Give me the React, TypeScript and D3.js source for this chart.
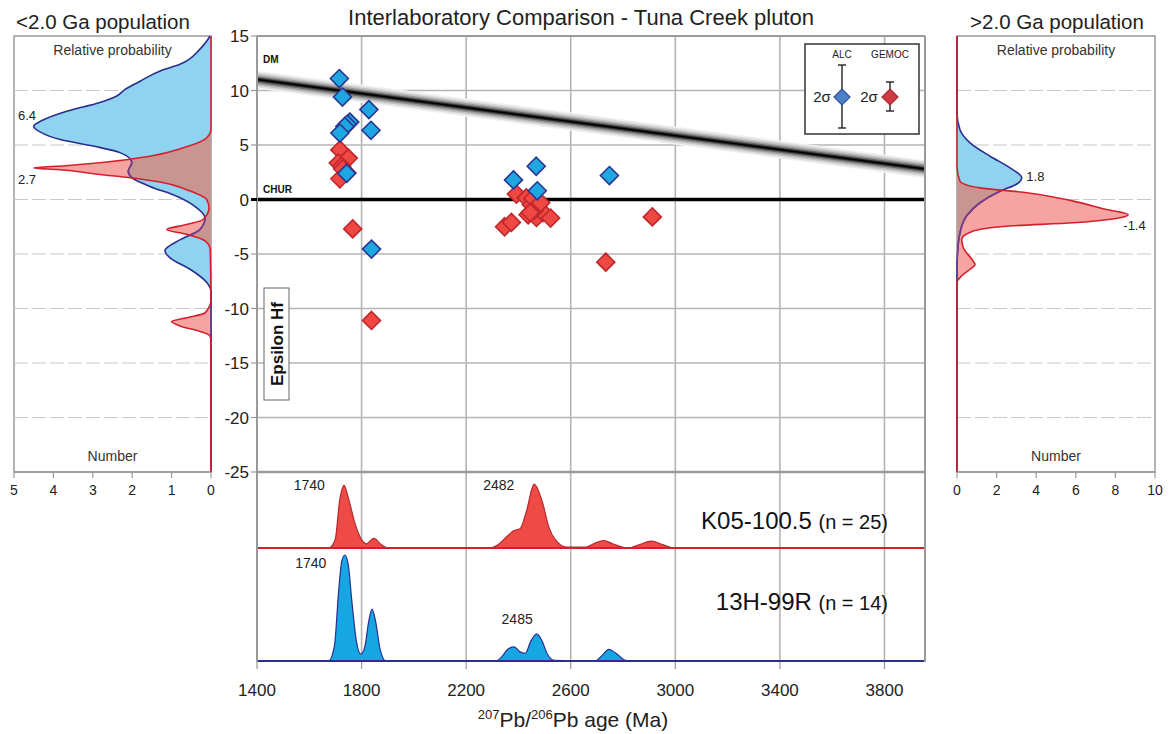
import React from 'react';
import * as d3 from 'd3';

type P = [number, number];

// ---------- data ----------
const ageTicks = [1400, 1800, 2200, 2600, 3000, 3400, 3800];
const epsTicks = [15, 10, 5, 0, -5, -10, -15, -20, -25];
const leftNumTicks = [5, 4, 3, 2, 1, 0];
const rightNumTicks = [0, 2, 4, 6, 8, 10];

// [age Ma, epsilon Hf]
const alcPoints: P[] = [
  [1715, 11.1], [1727, 9.4], [1828, 8.25], [1755, 7.1], [1745, 6.9], [1736, 6.7], [1717, 6.1],
  [1836, 6.35], [1743, 2.4], [1838, -4.55], [2381, 1.8], [2468, 3.05], [2472, 0.8], [2748, 2.2],
];
const gemocPoints: P[] = [
  [1717, 4.55], [1749, 3.8], [1711, 3.35], [1724, 3.05], [1743, 2.45], [1717, 1.9], [1728, 2.8],
  [1766, -2.7], [1838, -11.1],
  [2392, 0.5], [2430, 0.15], [2449, -0.45], [2475, -0.7], [2455, 0.1], [2437, -1.4], [2469, -1.65],
  [2494, -1.2], [2523, -1.7], [2347, -2.5], [2373, -2.1], [2460, -1.0], [2485, -0.3], [2445, -1.2],
  [2912, -1.6], [2734, -5.75],
];
const dmLine: P[] = [[1400, 11.0], [3955, 2.8]];
const churLine: P[] = [[1400, 0], [3955, 0]];

// side panels: [epsilon, number]
const leftAlcDensity: P[] = [
  [15, 0.02], [13.8, 0.28], [12.4, 0.79], [11.8, 1.29], [10.85, 1.8], [10.1, 2.18], [9.5, 2.39],
  [8.9, 2.82], [8.1, 3.66], [7.3, 4.26], [6.7, 4.5], [6.2, 4.34], [5.5, 3.83], [4.9, 2.99],
  [4.3, 2.31], [3.4, 2.01], [2.6, 2.1], [2.0, 2.01], [1.2, 1.55], [0.3, 0.87], [-0.76, 0.36],
  [-1.7, 0.15], [-2.75, 0.28], [-3.7, 0.79], [-4.7, 1.17], [-5.35, 1.04], [-6.4, 0.53],
  [-7.6, 0.11], [-8.5, 0], [-25, 0],
];
const leftGemocDensity: P[] = [
  [15, 0], [6.5, 0], [5.66, 0.11], [4.74, 0.7], [3.97, 1.55], [3.37, 2.82], [3.1, 3.7], [2.9, 4.5],
  [2.75, 3.9], [2.3, 2.82], [2.0, 2.06], [1.6, 1.29], [0.9, 0.62], [0, 0.11], [-0.76, 0.05],
  [-1.83, 0.2], [-2.3, 0.62], [-2.75, 1.12], [-3.2, 0.62], [-3.8, 0.15], [-4.6, 0.02], [-9.2, 0],
  [-10.4, 0.15], [-10.85, 0.62], [-11.2, 1.0], [-11.6, 0.79], [-12.1, 0.28], [-12.5, 0.03],
  [-13, 0], [-25, 0],
];
const rightAlcDensity: P[] = [
  [15, 0], [7.95, 0], [6.4, 0.15], [5.2, 0.66], [3.97, 1.67], [2.9, 2.68], [2.0, 3.27], [1.4, 3.0],
  [0.76, 2.17], [-0.3, 1.16], [-1.5, 0.49], [-3.05, 0.15], [-5.1, 0.02], [-6, 0], [-25, 0],
];
const rightGemocDensity: P[] = [
  [15, 0], [3.05, 0], [1.68, 0.15], [1.07, 1.16], [0.67, 3.35], [-0.15, 5.87], [-0.92, 7.56],
  [-1.38, 8.65], [-1.68, 8.23], [-2.14, 5.87], [-2.45, 2.51], [-2.9, 0.82], [-3.67, 0.24],
  [-4.43, 0.32], [-5.66, 0.82], [-5.96, 0.91], [-6.4, 0.66], [-7.0, 0.24], [-7.6, 0], [-25, 0],
];

// bottom age spectra: [age, relative probability]
const gemocAgeKde: P[] = [
  [1400, 0], [1674, 0], [1699, 0.13], [1716, 0.74], [1733, 0.98], [1749, 0.79], [1775, 0.38],
  [1800, 0.13], [1817, 0.066], [1847, 0.15], [1876, 0.05], [1901, 0], [2288, 0], [2322, 0.05],
  [2356, 0.18], [2381, 0.27], [2406, 0.3], [2431, 0.58], [2460, 1.0], [2490, 0.74], [2516, 0.33],
  [2541, 0.13], [2583, 0.015], [2659, 0.015], [2693, 0.076], [2726, 0.117], [2760, 0.066],
  [2819, 0], [2861, 0.05], [2908, 0.107], [2954, 0.05], [2996, 0], [3955, 0],
];
const alcAgeKde: P[] = [
  [1400, 0], [1674, 0], [1696, 0.14], [1712, 0.65], [1724, 0.94], [1736, 1.0], [1749, 0.91],
  [1763, 0.56], [1780, 0.19], [1797, 0.064], [1813, 0.14], [1827, 0.37], [1840, 0.49],
  [1854, 0.37], [1871, 0.11], [1893, 0], [2314, 0], [2339, 0.048], [2359, 0.11], [2383, 0.134],
  [2406, 0.086], [2426, 0.073], [2448, 0.19], [2470, 0.256], [2490, 0.19], [2511, 0.064],
  [2538, 0.006], [2693, 0], [2718, 0.048], [2746, 0.11], [2773, 0.073], [2810, 0.006], [2830, 0],
  [3955, 0],
];

const gemocPeakLabels: { age: number; text: string }[] = [{ age: 1600, text: '1740' }, { age: 2325, text: '2482' }];
const alcPeakLabels: { age: number; text: string }[] = [{ age: 1606, text: '1740' }, { age: 2395, text: '2485' }];
const leftPeakLabels: { eps: number; text: string }[] = [{ eps: 7.3, text: '6.4' }, { eps: 1.4, text: '2.7' }];
const rightPeakLabels: { eps: number; n: number; text: string }[] = [{ eps: 1.7, n: 3.5, text: '1.8' }, { eps: -2.8, n: 8.4, text: '-1.4' }];

// ---------- styles ----------
const FONT = "'Liberation Sans', Arial, sans-serif";
const C = {
  grid: '#b4b4b4',
  frame: '#9a9a9a',
  navy: '#2b2e8c',
  lightBlue: '#8fd3f0',
  red: '#d2202c',
  salmon: '#f5a4a1',
  brown: '#c99590',
  purple: '#7e3d86',
  dBlueFill: '#1fa7e1',
  dBlueStroke: '#2a3592',
  dRedFill: '#ef4742',
  dRedStroke: '#c0272d',
  kdeRed: '#ee4a46',
  kdeRedStroke: '#b3282e',
  kdeBlue: '#17a6e4',
};

const diamond = (r: number) => `M0,${-r}L${r},0L0,${r}L${-r},0Z`;

export default function App() {
  const x = d3.scaleLinear().domain([1400, 3955]).range([257, 925]);
  const y = d3.scaleLinear().domain([-25, 15]).range([472, 36]);
  const xl = d3.scaleLinear().domain([5, 0]).range([14, 211]);
  const xr = d3.scaleLinear().domain([0, 10]).range([957, 1155]);
  const yRed = d3.scaleLinear().domain([0, 1]).range([548, 484]);
  const yBlue = d3.scaleLinear().domain([0, 1]).range([661, 555]);

  const sideArea = (xs: d3.ScaleLinear<number, number>) =>
    d3.area<P>().y(d => y(d[0])).x0(xs(0)).x1(d => xs(d[1])).curve(d3.curveMonotoneY);
  const sideLine = (xs: d3.ScaleLinear<number, number>) =>
    d3.line<P>().y(d => y(d[0])).x(d => xs(d[1])).curve(d3.curveMonotoneY);
  const kdeArea = (ys: d3.ScaleLinear<number, number>) =>
    d3.area<P>().x(d => x(d[0])).y0(ys(0)).y1(d => ys(d[1])).curve(d3.curveMonotoneX);
  const kdeLine = (ys: d3.ScaleLinear<number, number>) =>
    d3.line<P>().x(d => x(d[0])).y(d => ys(d[1])).curve(d3.curveMonotoneX);
  const straight = d3.line<P>().x(d => x(d[0])).y(d => y(d[1]));

  const gridEps = epsTicks.filter(t => t !== 15 && t !== -25 && t !== 0);
  const sideGridEps = epsTicks.filter(t => t !== 15 && t !== -25);

  const renderSide = (
    xs: d3.ScaleLinear<number, number>,
    alc: P[],
    gemoc: P[],
    key: string,
    left: number,
    right: number,
    ticks: number[],
  ) => {
    const aA = sideArea(xs)(alc) || '';
    const gA = sideArea(xs)(gemoc) || '';
    const aL = sideLine(xs)(alc) || '';
    const gL = sideLine(xs)(gemoc) || '';
    return (
      <g key={key}>
        <defs>
          <clipPath id={`${key}-clipA`}><path d={aA} /></clipPath>
          <clipPath id={`${key}-clipG`}><path d={gA} /></clipPath>
        </defs>
        <rect x={left} y={y(15)} width={right - left} height={y(-25) - y(15)} fill="white" stroke={C.frame} strokeWidth={1.5} />
        {sideGridEps.map(t => (
          <line key={t} x1={left} x2={right} y1={y(t)} y2={y(t)} stroke="#c8c8c8" strokeWidth={1.2} strokeDasharray="14,4" />
        ))}
        <path d={aA} fill={C.lightBlue} />
        <path d={gA} fill={C.salmon} />
        <path d={gA} fill={C.brown} clipPath={`url(#${key}-clipA)`} />
        <path d={aL} fill="none" stroke={C.navy} strokeWidth={1.6} />
        <path d={aL} fill="none" stroke={C.purple} strokeWidth={1.6} clipPath={`url(#${key}-clipG)`} />
        <path d={gL} fill="none" stroke={C.red} strokeWidth={1.6} />
        <line x1={left} x2={right} y1={y(-25)} y2={y(-25)} stroke={C.frame} strokeWidth={1.5} />
        {ticks.map(t => (
          <g key={t}>
            <line x1={xs(t)} x2={xs(t)} y1={y(-25)} y2={y(-25) + 6} stroke={C.frame} strokeWidth={1.2} />
            <text x={xs(t)} y={y(-25) + 23} textAnchor="middle" fontSize={14} fontFamily={FONT} fill="#222">{t}</text>
          </g>
        ))}
        <text x={(left + right) / 2} y={55} textAnchor="middle" fontSize={14} fontFamily={FONT} fill="#333">Relative probability</text>
        <text x={(left + right) / 2} y={461} textAnchor="middle" fontSize={14} fontFamily={FONT} fill="#333">Number</text>
      </g>
    );
  };

  const dmBands = [
    { w: 18, c: '#f2f2f2' },
    { w: 15, c: '#dedede' },
    { w: 12, c: '#c2c2c2' },
    { w: 9, c: '#9a9a9a' },
    { w: 6, c: '#666' },
    { w: 3.5, c: '#2a2a2a' },
    { w: 1.5, c: '#000' },
  ];

  return (
    <svg width={1171} height={734} style={{ position: 'absolute', left: 0, top: 0, background: 'white' }}>
      <defs>
        <clipPath id="mainClip"><rect x={257} y={36} width={668} height={436} /></clipPath>
      </defs>

      {/* titles */}
      <text x={581} y={25} textAnchor="middle" fontSize={22} fontFamily={FONT} fill="#222">Interlaboratory Comparison - Tuna Creek pluton</text>
      <text x={103} y={29} textAnchor="middle" fontSize={20.5} fontFamily={FONT} fill="#222">&lt;2.0 Ga population</text>
      <text x={1057} y={29} textAnchor="middle" fontSize={20.5} fontFamily={FONT} fill="#222">&gt;2.0 Ga population</text>

      {/* side panels */}
      {renderSide(xl, leftAlcDensity, leftGemocDensity, 'left', 14, 211, leftNumTicks)}
      {renderSide(xr, rightAlcDensity, rightGemocDensity, 'right', 957, 1155, rightNumTicks)}
      {leftPeakLabels.map(l => (
        <text key={l.text} x={18} y={y(l.eps)} fontSize={13} fontFamily={FONT} fill="#222">{l.text}</text>
      ))}
      {rightPeakLabels.map(l => (
        <text key={l.text} x={xr(l.n)} y={y(l.eps)} fontSize={13} fontFamily={FONT} fill="#222">{l.text}</text>
      ))}

      {/* main panel grid */}
      {ageTicks.filter(t => t !== 1400).map(t => (
        <line key={t} x1={x(t)} x2={x(t)} y1={36} y2={662} stroke={C.grid} strokeWidth={1.6} />
      ))}
      {gridEps.map(t => (
        <line key={t} x1={257} x2={925} y1={y(t)} y2={y(t)} stroke={C.grid} strokeWidth={1.4} />
      ))}
      <line x1={257} x2={925} y1={y(-25)} y2={y(-25)} stroke={C.frame} strokeWidth={2.5} />

      {/* DM band */}
      <g clipPath="url(#mainClip)">
        {dmBands.map((b, i) => (
          <path key={i} d={straight(dmLine) || ''} stroke={b.c} strokeWidth={b.w} fill="none" />
        ))}
      </g>
      {/* CHUR */}
      <path d={straight(churLine) || ''} stroke="#000" strokeWidth={3.5} fill="none" />
      <text x={263} y={63} fontSize={10} fontWeight="bold" fontFamily={FONT} fill="#111">DM</text>
      <text x={263} y={193} fontSize={10} fontWeight="bold" fontFamily={FONT} fill="#111">CHUR</text>

      {/* points */}
      {gemocPoints.map((p, i) => (
        <path key={`g${i}`} d={diamond(9)} transform={`translate(${x(p[0])},${y(p[1])})`} fill={C.dRedFill} stroke={C.dRedStroke} strokeWidth={1.6} />
      ))}
      {alcPoints.map((p, i) => (
        <path key={`a${i}`} d={diamond(9)} transform={`translate(${x(p[0])},${y(p[1])})`} fill={C.dBlueFill} stroke={C.dBlueStroke} strokeWidth={1.6} />
      ))}

      {/* Epsilon Hf label */}
      <rect x={264} y={288} width={25} height={112} fill="white" stroke="#666" strokeWidth={1} />
      <text transform="translate(283,344) rotate(-90)" textAnchor="middle" fontSize={17} fontWeight="bold" fontFamily={FONT} fill="#111">Epsilon Hf</text>

      {/* legend */}
      <rect x={805} y={44} width={114} height={90} fill="white" stroke="#333" strokeWidth={1.5} />
      <text x={842} y={58} textAnchor="middle" fontSize={10} fontFamily={FONT} fill="#222">ALC</text>
      <text x={890} y={58} textAnchor="middle" fontSize={10} fontFamily={FONT} fill="#222">GEMOC</text>
      <line x1={842} x2={842} y1={65} y2={128} stroke="#222" strokeWidth={1.4} />
      <line x1={838} x2={846} y1={65} y2={65} stroke="#222" strokeWidth={1.4} />
      <line x1={838} x2={846} y1={128} y2={128} stroke="#222" strokeWidth={1.4} />
      <line x1={890} x2={890} y1={82} y2={111} stroke="#222" strokeWidth={1.4} />
      <line x1={886} x2={894} y1={82} y2={82} stroke="#222" strokeWidth={1.4} />
      <line x1={886} x2={894} y1={111} y2={111} stroke="#222" strokeWidth={1.4} />
      <path d={diamond(8)} transform="translate(842,97)" fill="#4d82c8" stroke="#2f509c" strokeWidth={1.2} />
      <path d={diamond(8)} transform="translate(890,97)" fill="#cf3b45" stroke="#a82a32" strokeWidth={1.2} />
      <text x={822} y={102} textAnchor="middle" fontSize={15} fontFamily={FONT} fill="#222">2σ</text>
      <text x={869} y={102} textAnchor="middle" fontSize={15} fontFamily={FONT} fill="#222">2σ</text>

      {/* age spectra */}
      <path d={kdeArea(yRed)(gemocAgeKde) || ''} fill={C.kdeRed} />
      <path d={kdeLine(yRed)(gemocAgeKde) || ''} fill="none" stroke={C.kdeRedStroke} strokeWidth={1.2} />
      <line x1={257} x2={925} y1={yRed(0)} y2={yRed(0)} stroke={C.red} strokeWidth={2} />
      <path d={kdeArea(yBlue)(alcAgeKde) || ''} fill={C.kdeBlue} />
      <path d={kdeLine(yBlue)(alcAgeKde) || ''} fill="none" stroke={C.navy} strokeWidth={1.2} />
      <line x1={257} x2={925} y1={yBlue(0)} y2={yBlue(0)} stroke={C.navy} strokeWidth={2} />
      {gemocPeakLabels.map(l => (
        <text key={l.text + 'r'} x={x(l.age)} y={yRed(0.98)} dy={5} textAnchor="middle" fontSize={14} fontFamily={FONT} fill="#222">{l.text}</text>
      ))}
      {alcPeakLabels.map((l, i) => (
        <text key={l.text + 'b' + i} x={x(l.age)} y={i === 0 ? yBlue(0.92) : yBlue(0.4)} dy={5} textAnchor="middle" fontSize={14} fontFamily={FONT} fill="#222">{l.text}</text>
      ))}
      <text x={888} y={529} textAnchor="end" fontFamily={FONT} fill="#111">
        <tspan fontSize={24}>K05-100.5 </tspan><tspan fontSize={20}>(n = 25)</tspan>
      </text>
      <text x={888} y={610} textAnchor="end" fontFamily={FONT} fill="#111">
        <tspan fontSize={24}>13H-99R </tspan><tspan fontSize={20}>(n = 14)</tspan>
      </text>

      {/* main frame */}
      <line x1={257} x2={925} y1={36} y2={36} stroke={C.frame} strokeWidth={2} />
      <line x1={257} x2={257} y1={36} y2={662} stroke={C.frame} strokeWidth={2} />
      <line x1={925} x2={925} y1={36} y2={662} stroke={C.frame} strokeWidth={2} />

      {/* y axis */}
      {epsTicks.map(t => (
        <g key={t}>
          <line x1={251} x2={257} y1={y(t)} y2={y(t)} stroke={t === 0 ? '#000' : C.frame} strokeWidth={t === 0 ? 3 : 1.2} />
          <text x={249} y={y(t)} dy={6} textAnchor="end" fontSize={17} fontFamily={FONT} fill="#222">{t}</text>
        </g>
      ))}

      {/* x axis */}
      {ageTicks.map(t => (
        <g key={t}>
          <line x1={x(t)} x2={x(t)} y1={662} y2={669} stroke={C.frame} strokeWidth={1.2} />
          <text x={x(t)} y={696} textAnchor="middle" fontSize={17} fontFamily={FONT} fill="#222">{t}</text>
        </g>
      ))}
      <text x={573} y={727} textAnchor="middle" fontSize={21} fontFamily={FONT} fill="#222">
        <tspan fontSize={13} dy={-8}>207</tspan><tspan dy={8}>Pb/</tspan><tspan fontSize={13} dy={-8}>206</tspan><tspan dy={8}>Pb age (Ma)</tspan>
      </text>
    </svg>
  );
}
